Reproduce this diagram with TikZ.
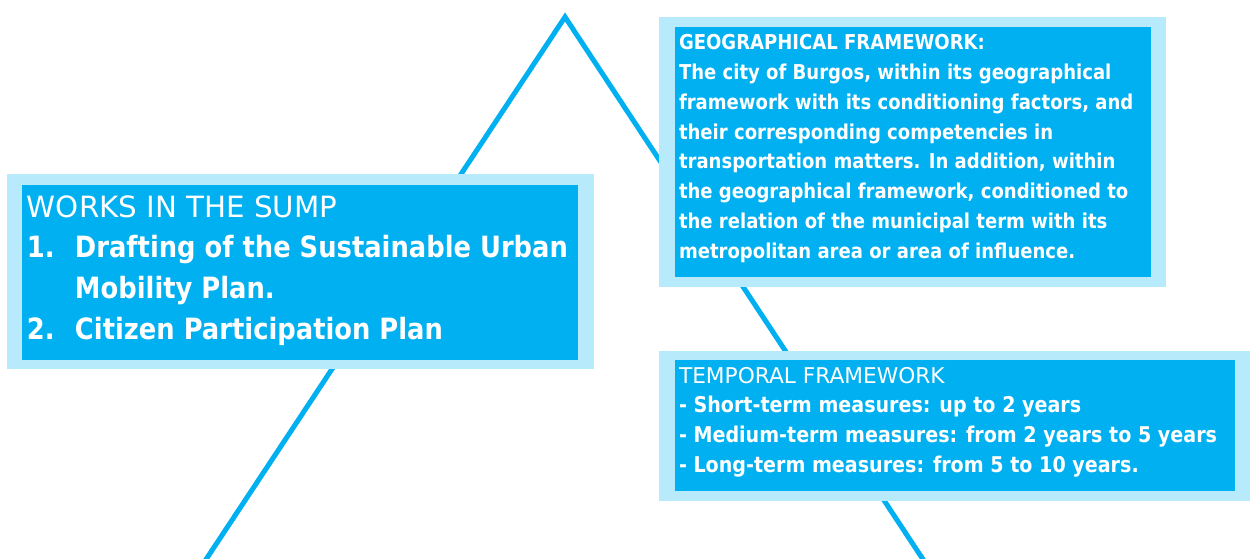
\documentclass[tikz,border=0pt]{standalone}
\usepackage{fontspec}
\setmainfont{DejaVu Sans}
\newfontfamily\bodyfont[FakeStretch=0.88]{DejaVu Sans}
\newfontfamily\headfont{DejaVu Sans}
\definecolor{sky}{HTML}{00B0F0}
\definecolor{pale}{HTML}{B7EBFB}
\tikzset{
  frame/.style={fill=pale, draw=none, inner sep=0pt, outer sep=0pt},
  panel/.style={fill=sky, draw=none, inner sep=0pt, outer sep=0pt},
  label/.style={anchor=base west, inner sep=0pt, outer sep=0pt, text=white},
  ridge/.style={draw=sky, line width=5pt}
}
\begin{document}
\begin{tikzpicture}[x=1pt,y=-1pt]
\useasboundingbox (0,0) rectangle (1254,558);

% the two sides of the peak, running behind the panels
\coordinate (apex) at (565,17);
\coordinate (footL) at (199,570);
\coordinate (footR) at (930,570);
\draw[ridge] (footL) -- (apex) -- (footR);

% works panel
\node[frame, minimum width=587pt, minimum height=195pt] (worksO) at (300.5,271.5) {};
\node[panel, minimum width=556pt, minimum height=175pt] (worksI) at (300,272.5) {};
\node[label] (worksT) at (27,217) {\parbox[t]{560pt}{\fontsize{29.3pt}{40.8pt}\selectfont\raggedright
  {\headfont WORKS IN THE SUMP}\\
  {\bodyfont\bfseries\makebox[48pt][l]{1.}Drafting of the Sustainable Urban}\\
  {\bodyfont\bfseries\hspace*{48pt}Mobility Plan.}\\
  {\bodyfont\bfseries\makebox[48pt][l]{2.}Citizen Participation Plan}}};

% geographical panel
\node[frame, minimum width=507pt, minimum height=270pt] (geoO) at (912.5,152) {};
\node[panel, minimum width=476pt, minimum height=250pt] (geoI) at (913,152) {};
\node[label] (geoT) at (679,49.5) {\parbox[t]{470pt}{\fontsize{20.5pt}{29.85pt}\selectfont\raggedright\bodyfont\bfseries
  GEOGRAPHICAL FRAMEWORK:\\
  The city of Burgos, within its geographical\\
  framework with its conditioning factors, and\\
  their corresponding competencies in\\
  transportation matters. In addition, within\\
  the geographical framework, conditioned to\\
  the relation of the municipal term with its\\
  metropolitan area or area of influence.}};

% temporal panel
\node[frame, minimum width=591pt, minimum height=150pt] (timeO) at (954.5,426) {};
\node[panel, minimum width=560pt, minimum height=131pt] (timeI) at (955,425.5) {};
\node[label] (timeT) at (679,383) {\parbox[t]{560pt}{\fontsize{21.7pt}{29.8pt}\selectfont\raggedright
  {\headfont TEMPORAL FRAMEWORK}\\
  {\bodyfont\bfseries - Short-term measures: up to 2 years}\\
  {\bodyfont\bfseries - Medium-term measures: from 2 years to 5 years}\\
  {\bodyfont\bfseries - Long-term measures: from 5 to 10 years.}}};
\end{tikzpicture}
\end{document}
